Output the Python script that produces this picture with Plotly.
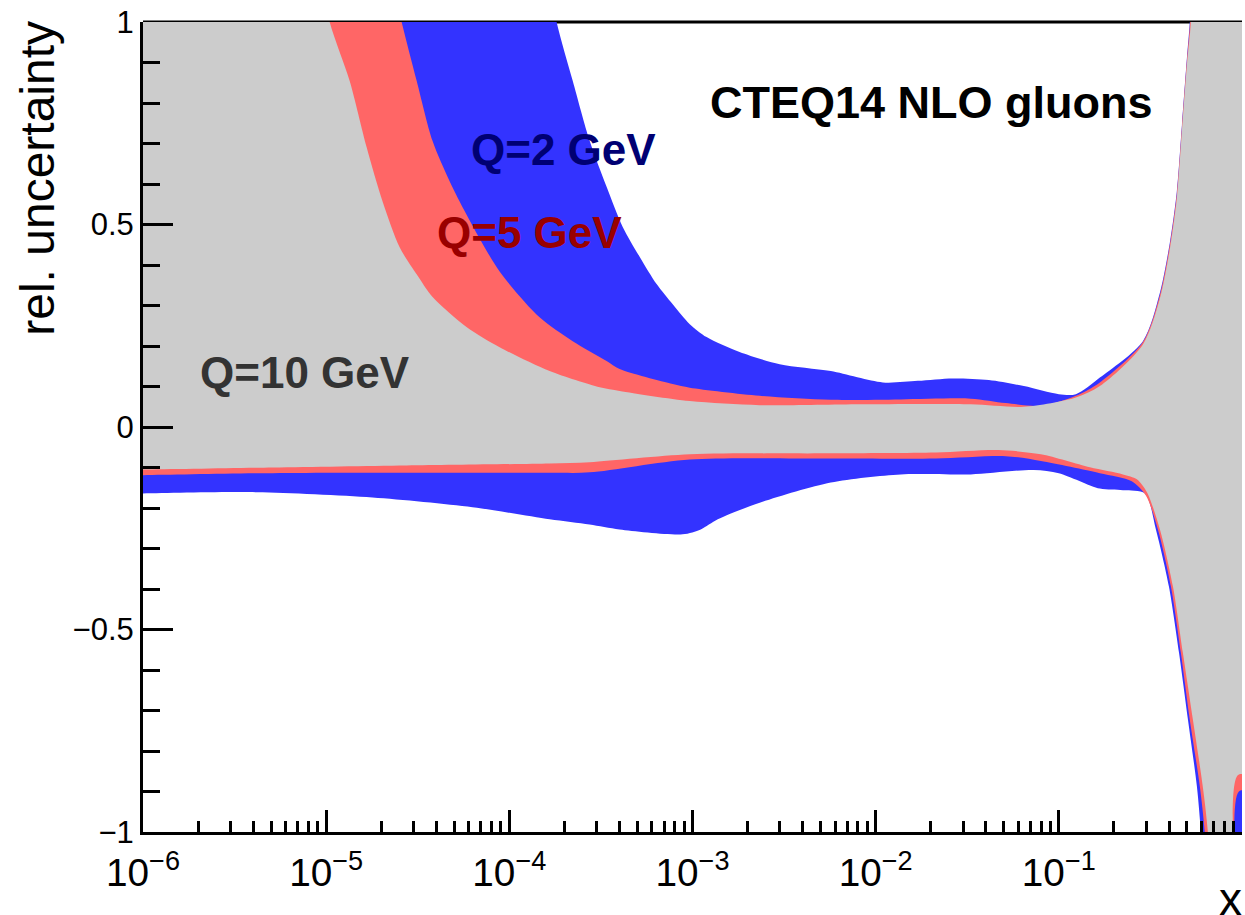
import plotly.graph_objects as go

# ---------------- data (x given as log10(x)) ----------------
# Q = 2 GeV (blue band)
q2_up_logx = [-6.2, -4.1, -3.85, -3.742, -3.654, -3.561, -3.469, -3.381, -3.288, -3.196, -3.108, -3.015,
              -2.923, -2.743, -2.524, -2.245, -1.961, -1.770, -1.579, -1.382, -1.191, -1.000, -0.907,
              -0.776, -0.541, -0.449, -0.394, -0.356, -0.328, -0.301, -0.285, -0.257, 0.1]
q2_up = [10.0, 1.9, 1.25, 1.0, 0.855, 0.706, 0.593, 0.494, 0.420, 0.353, 0.303, 0.254,
         0.222, 0.185, 0.155, 0.138, 0.110, 0.114, 0.120, 0.116, 0.101, 0.081, 0.081,
         0.122, 0.212, 0.330, 0.455, 0.580, 0.745, 0.910, 1.0, 1.3, 3.0]
q2_lo_logx = [-6.2, -6.0, -5.380, -4.747, -4.201, -3.780, -3.562, -3.398, -3.054, -2.955, -2.862, -2.633,
              -2.245, -1.863, -1.481, -1.137, -1.000, -0.776, -0.650, -0.530, -0.470, -0.399,
              -0.344, -0.295, -0.246, -0.224, -0.150, 0.1]
q2_lo = [-0.165, -0.164, -0.161, -0.174, -0.198, -0.228, -0.241, -0.253, -0.265, -0.253, -0.228, -0.187,
         -0.137, -0.117, -0.117, -0.106, -0.114, -0.152, -0.156, -0.164, -0.253, -0.394,
         -0.557, -0.723, -0.888, -1.002, -1.5, -1.5]

# Q = 5 GeV (red band)
q5_up_logx = [-6.2, -4.9, -4.70, -4.588, -4.506, -4.419, -4.326, -4.234, -4.053, -3.835, -3.654, -3.469,
              -3.398, -3.108, -3.015, -2.633, -2.246, -1.863, -1.481, -1.290, -1.098, -0.907, -0.776,
              -0.541, -0.449, -0.394, -0.356, -0.328, -0.301, -0.283, -0.255, 0.1]
q5_up = [8.0, 1.7, 1.22, 1.0, 0.855, 0.706, 0.607, 0.525, 0.384, 0.271, 0.212, 0.163,
         0.143, 0.106, 0.097, 0.077, 0.067, 0.068, 0.070, 0.059, 0.052, 0.077, 0.110,
         0.210, 0.325, 0.450, 0.575, 0.740, 0.905, 1.0, 1.3, 3.0]
q5_lo_logx = [-6.2, -6.0, -5.293, -3.780, -3.562, -3.015, -2.245, -1.672, -1.290, -1.098, -0.776, -0.602,
              -0.525, -0.459, -0.388, -0.334, -0.285, -0.230, -0.203, -0.140, -0.028, -0.017, 0.1]
q5_lo = [-0.12, -0.119, -0.114, -0.113, -0.112, -0.080, -0.078, -0.078, -0.072, -0.084, -0.114, -0.134,
         -0.169, -0.253, -0.394, -0.557, -0.723, -0.888, -1.002, -1.5, -1.5, -0.90, -0.90]

# Q = 10 GeV (grey band)
q10_up_logx = [-6.2, -5.25, -5.09, -4.981, -4.872, -4.779, -4.692, -4.599, -4.506, -4.419, -4.234, -4.053,
               -3.780, -3.507, -3.398, -3.015, -2.633, -2.054, -1.481, -1.191, -0.907, -0.776, -0.541,
               -0.449, -0.394, -0.356, -0.328, -0.301, -0.279, -0.25, 0.1]
q10_up = [6.0, 1.67, 1.23, 1.0, 0.855, 0.691, 0.557, 0.444, 0.377, 0.321, 0.247, 0.197,
          0.138, 0.098, 0.089, 0.064, 0.054, 0.056, 0.056, 0.050, 0.073, 0.101, 0.204,
          0.316, 0.439, 0.563, 0.729, 0.892, 1.0, 1.3, 3.0]
q10_lo_logx = [-6.2, -6.0, -5.293, -4.561, -3.780, -3.562, -3.015, -2.245, -1.672, -1.328, -1.098, -0.830,
               -0.650, -0.574, -0.519, -0.448, -0.377, -0.323, -0.268, -0.214, -0.186, -0.121,
               -0.034, -0.023, 0.1]
q10_lo = [-0.106, -0.105, -0.100, -0.095, -0.090, -0.087, -0.0675, -0.065, -0.063, -0.057, -0.0675, -0.0996,
          -0.117, -0.129, -0.161, -0.253, -0.394, -0.557, -0.723, -0.888, -1.002, -1.5,
          -1.5, -0.86, -0.86]

bands = [
    ("Q=2 GeV", q2_up_logx, q2_up, q2_lo_logx, q2_lo, "#3333ff"),
    ("Q=5 GeV", q5_up_logx, q5_up, q5_lo_logx, q5_lo, "#ff6666"),
    ("Q=10 GeV", q10_up_logx, q10_up, q10_lo_logx, q10_lo, "#cccccc"),
]

FONT = "Liberation Sans, Arial, Helvetica, sans-serif"

fig = go.Figure()
for name, ux, uy, lx, ly, col in bands:
    xs = [10 ** v for v in ux] + [10 ** v for v in lx[::-1]]
    ys = list(uy) + list(ly[::-1])
    fig.add_trace(go.Scatter(x=xs, y=ys, mode="lines", fill="toself", fillcolor=col,
                             line=dict(width=0, color=col, shape="spline", smoothing=0.8),
                             name=name, hoverinfo="skip", showlegend=False))

# top frame line drawn below the bands
fig.add_shape(type="line", xref="paper", yref="paper", x0=0, x1=1, y0=1, y1=1,
              line=dict(color="black", width=3), layer="below")

fig.update_xaxes(type="log", range=[-6, 0], showline=True, linewidth=3, linecolor="black",
                 ticks="inside", ticklen=22, tickwidth=3, tickcolor="black", dtick=1,
                 exponentformat="power", showgrid=False, zeroline=False, ticklabelstandoff=6,
                 tickfont=dict(size=31, family=FONT, color="black"),
                 minor=dict(ticks="inside", ticklen=11, tickwidth=3, tickcolor="black",
                            dtick="D1", showgrid=False))
fig.update_yaxes(range=[-1, 1], showline=True, linewidth=3, linecolor="black",
                 ticks="inside", ticklen=30, tickwidth=3, tickcolor="black", dtick=0.5,
                 showgrid=False, zeroline=False,
                 tickfont=dict(size=31, family=FONT, color="black"),
                 minor=dict(ticks="inside", ticklen=17, tickwidth=3, tickcolor="black",
                            dtick=0.1, showgrid=False))

def ann(text, x, y, size, color, bold=True, xanchor="center", yanchor="middle", **kw):
    fig.add_annotation(text=text, x=x, y=y, xref="paper", yref="paper", showarrow=False,
                       xanchor=xanchor, yanchor=yanchor,
                       font=dict(size=size, family=FONT, color=color,
                                 weight="bold" if bold else "normal"), **kw)

ann("CTEQ14 NLO gluons", 0.7178, 0.900, 45, "black")
ann("Q=2 GeV", 0.3823, 0.842, 44, "#000073")
ann("Q=5 GeV", 0.3514, 0.7407, 44, "#990000")
ann("Q=10 GeV", 0.147, 0.5667, 44, "#333333")
ann("rel. uncertainty", -0.0960, 1.0040, 48, "black", bold=False, textangle=-90,
    xanchor="center", yanchor="top")
ann("x", 1.0016, -0.083, 46, "black", bold=False, xanchor="right", yanchor="middle")

fig.update_layout(width=1245, height=915, margin=dict(l=143, r=3, t=22, b=83),
                  plot_bgcolor="white", paper_bgcolor="white", showlegend=False)

fig.write_html("out.html")
